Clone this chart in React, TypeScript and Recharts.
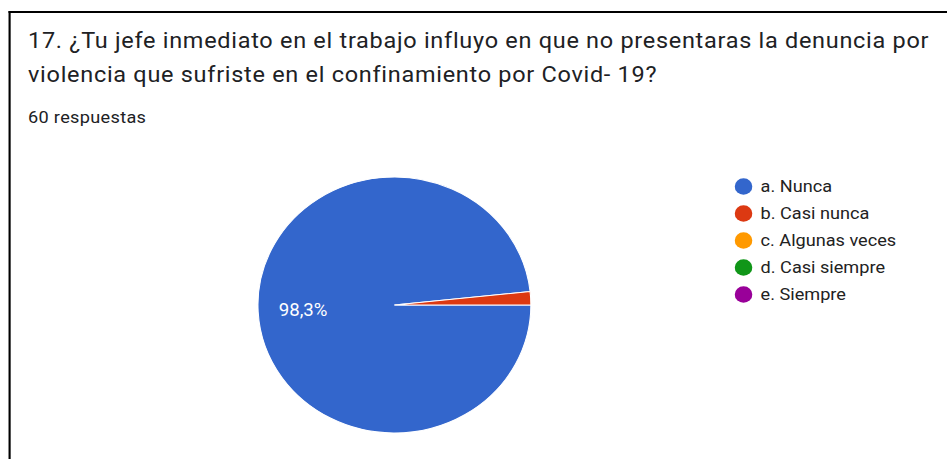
import React from 'react';
import { PieChart, Pie, Cell, Legend } from 'recharts';

const TITLE_LINES = [
  '17. ¿Tu jefe inmediato en el trabajo influyo en que no presentaras la denuncia por',
  'violencia que sufriste en el confinamiento por Covid- 19?',
];
const SUBTITLE = '60 respuestas';
const categories = ['a. Nunca', 'b. Casi nunca', 'c. Algunas veces', 'd. Casi siempre', 'e. Siempre'];
const counts = [59, 1, 0, 0, 0];
const colors = ['#3366cc', '#dc3912', '#ff9900', '#109618', '#990099'];

const data = categories.map((name, i) => ({ name, value: counts[i], fill: colors[i] }));

const SX = 1.066;
const FONT = 'Roboto, Arial, sans-serif';

const renderLabel = (props: any) => {
  const { cx, cy, midAngle, outerRadius, percent } = props;
  if (!percent || percent < 0.05) return null;
  const r = outerRadius * 0.67;
  const rad = (Math.PI / 180) * midAngle;
  const x = cx + r * Math.cos(rad);
  const y = cy - r * Math.sin(rad);
  const txt = (percent * 100).toFixed(1).replace('.', ',') + '%';
  return (
    <text x={x} y={y} fill="#ffffff" textAnchor="middle" dominantBaseline="central"
      style={{ fontFamily: FONT, fontSize: 17.5 }}>
      {txt}
    </text>
  );
};

const renderLegend = (props: any) => {
  const payload = props.payload || [];
  return (
    <div style={{ fontFamily: FONT }}>
      {payload.map((p: any, i: number) => (
        <div key={i} style={{ height: 27, display: 'flex', alignItems: 'center' }}>
          <svg width={17} height={17} style={{ flex: 'none' }}>
            <circle cx={8.5} cy={8.5} r={8.3} fill={p.color || (p.payload && p.payload.fill)} />
          </svg>
          <span style={{ marginLeft: 8, fontSize: 17, color: '#222222', whiteSpace: 'nowrap' }}>{p.value}</span>
        </div>
      ))}
    </div>
  );
};

export default function App() {
  return (
    <div style={{ position: 'fixed', left: 0, top: 0, width: 947, height: 459, overflow: 'hidden', background: '#ffffff' }}>
      <div style={{ position: 'absolute', left: 0, top: 0, width: 947 / SX, height: 459, transform: `scaleX(${SX})`, transformOrigin: '0 0' }}>
        <div style={{ position: 'absolute', left: 7.6, top: 11, width: 1000, height: 600, borderLeft: '2px solid #000', borderTop: '2px solid #000', background: '#fff' }} />
        <div style={{ position: 'absolute', left: 26.3, top: 24, fontFamily: FONT, fontSize: 22, letterSpacing: 0.68, lineHeight: '34px', color: '#202124', whiteSpace: 'nowrap' }}>
          {TITLE_LINES.map((l, i) => <div key={i}>{l}</div>)}
        </div>
        <div style={{ position: 'absolute', left: 26.3, top: 107, fontFamily: FONT, fontSize: 17, letterSpacing: 0.3, lineHeight: '20px', color: '#202124', whiteSpace: 'nowrap' }}>
          {SUBTITLE}
        </div>
        <div style={{ position: 'absolute', left: 0, top: 0 }}>
          <PieChart width={888} height={459} margin={{ top: 0, right: 0, bottom: 0, left: 0 }}>
            <Pie data={data} dataKey="value" nameKey="name" cx={370} cy={305} outerRadius={128}
              startAngle={6} endAngle={366} stroke="#ffffff" strokeWidth={1}
              label={renderLabel} labelLine={false} isAnimationActive={false}>
              {data.map((d, i) => <Cell key={i} fill={d.fill} />)}
            </Pie>
            <Legend layout="vertical" verticalAlign="top" align="right"
              wrapperStyle={{ position: 'absolute', left: 688.5, top: 172.5, width: 190 }}
              content={renderLegend} />
          </PieChart>
        </div>
      </div>
    </div>
  );
}
